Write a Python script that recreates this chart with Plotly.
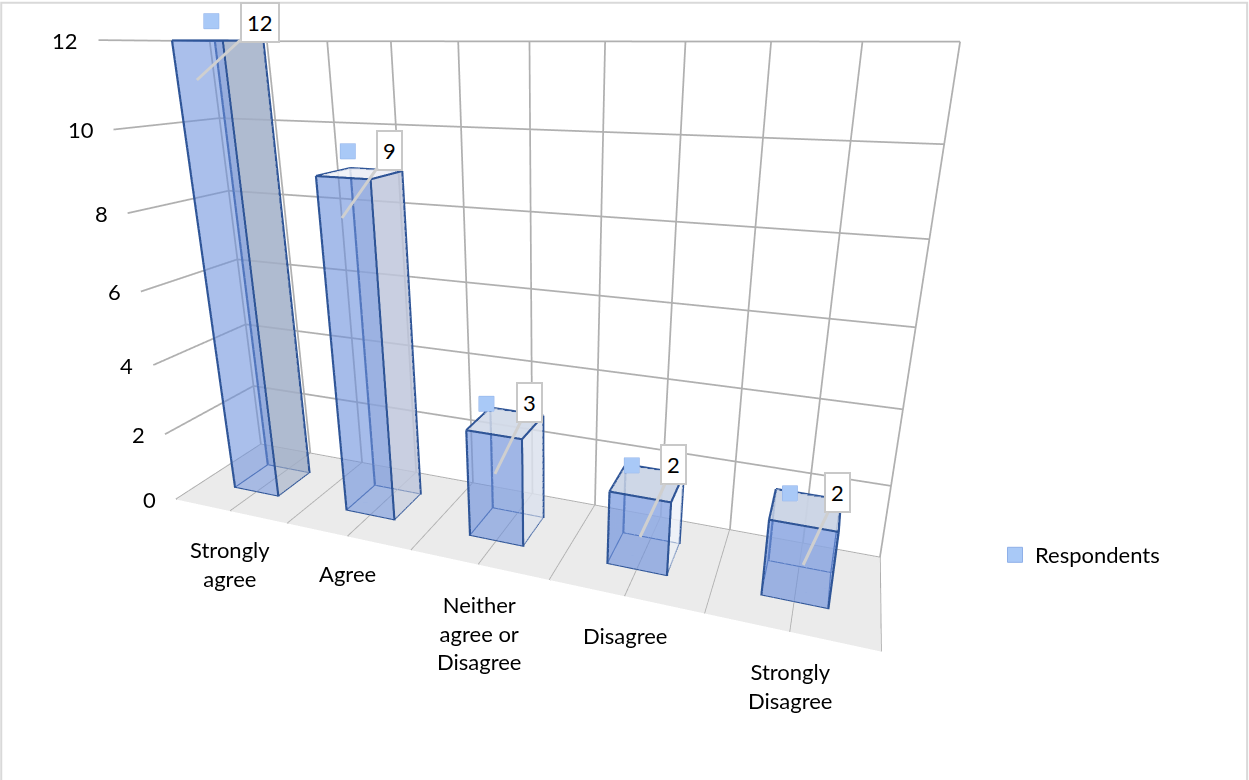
import plotly.graph_objects as go

# Survey responses per answer category
categories = ["Strongly<br>agree", "Agree", "Neither<br>agree or<br>Disagree", "Disagree", "Strongly<br>Disagree"]
respondents = [12, 9, 3, 2, 2]
series_name = "Respondents"
z_ticks = [0, 2, 4, 6, 8, 10, 12]
x_grid = [0, .5, 1, 1.5, 2, 2.5, 3, 3.5, 4, 4.5, 5]
X_MAX, Y_MAX, Z_MAX = 5, 1, 12
Z_HEADROOM = 12.6  # axis runs a little past the top gridline so the first key is not clipped

# Column footprint in axis units
BAR_W, BAR_D0, BAR_D1 = .4, .3, .7

# Styling
FONT = "Lato"
FONT_SIZE = 22
TEXT = "#000000"
GRID = "#b0b0b0"
EDGE = "#2f5597"
front_color = "#6e91dc"
front_alpha = [.54, .57, .6, .64, .64]
side_colors = ["#a0aec7", "#bec6db", "#dbe1ed", "#edf2f9", "#e1e6f0"]
top_colors = ["#c9d4e8", "#f2f3f8", "#d2dae8", "#c8d2e4", "#c8d2e4"]
flat = dict(ambient=1, diffuse=0, specular=0, roughness=1, fresnel=0)

# Series keys: offset from the column's left category edge and above its top
key_dx = [.46, .42, .36, .39, .395]
key_dz = [.45, .52, .45, .40, .35]

# Callout boxes: where the pointer lands relative to the column, and the box offset in pixels
tip_dx = [-.044, -.033, 0, .01, .023]
tip_dz = [-.887, -.954, -1.07, -1.07, -.987]
callout_ax = [63, 48, 35, 34, 34]
callout_ay = [-58, -68, -71, -72, -72]
label_yshift = [-23, -21, -24, -24, -24]

# Perspective view of the 3D box
eye = dict(x=0.63375, y=-1.47903, z=0.49039 - .025)
center = dict(x=0.14612, y=-0.11235, z=-0.03027 - .025)
up = dict(x=0.05164, y=-0.15202, z=1)
aspect = dict(x=1.53574, y=0.30564, z=Z_HEADROOM / Z_MAX)
view_h, view_cx = 698.05523, 553.69472

fig = go.Figure()

# Floor
fig.add_trace(go.Mesh3d(x=[0, X_MAX, X_MAX, 0], y=[0, 0, Y_MAX, Y_MAX], z=[0, 0, 0, 0],
                        i=[0, 0], j=[1, 2], k=[2, 3], color="#ebebeb", flatshading=True,
                        lighting=flat, hoverinfo="skip", showlegend=False))

# Gridlines on the side wall, back wall and floor
xs, ys, zs = [], [], []
for v in z_ticks:
    xs += [0, 0, X_MAX, None]
    ys += [0, Y_MAX, Y_MAX, None]
    zs += [v, v, v, None]
for v in x_grid:
    xs += [v, v, v, None]
    ys += [0, Y_MAX, Y_MAX, None]
    zs += [0, 0, Z_MAX, None]
fig.add_trace(go.Scatter3d(x=xs, y=ys, z=zs, mode="lines", line=dict(color=GRID, width=3.5),
                           hoverinfo="skip", showlegend=False))


def face_mesh(xv, yv, zv, faces, color, opacity):
    return go.Mesh3d(x=xv, y=yv, z=zv, i=[f[0] for f in faces], j=[f[1] for f in faces],
                     k=[f[2] for f in faces], color=color, opacity=opacity, flatshading=True,
                     lighting=flat, hoverinfo="skip", showlegend=False)


# Translucent columns, far faces first, with outlined edges on top
for n, v in enumerate(respondents):
    x0, x1 = n + .5 - BAR_W / 2, n + .5 + BAR_W / 2
    xv = [x0, x1, x1, x0, x0, x1, x1, x0]
    yv = [BAR_D0, BAR_D0, BAR_D1, BAR_D1, BAR_D0, BAR_D0, BAR_D1, BAR_D1]
    zv = [0, 0, 0, 0, v, v, v, v]
    fig.add_trace(face_mesh(xv, yv, zv, [[2, 3, 7], [2, 7, 6]], side_colors[n], .6))
    fig.add_trace(face_mesh(xv, yv, zv, [[1, 2, 6], [1, 6, 5]], side_colors[n], .6))
    fig.add_trace(face_mesh(xv, yv, zv, [[3, 0, 4], [3, 4, 7], [0, 1, 2], [0, 2, 3]], front_color, .1))
    fig.add_trace(face_mesh(xv, yv, zv, [[0, 1, 5], [0, 5, 4]], front_color, front_alpha[n]))
    fig.add_trace(face_mesh(xv, yv, zv, [[4, 5, 6], [4, 6, 7]], top_colors[n], .85))
    ex, ey, ez = [], [], []
    for a, b in [(0, 1), (1, 2), (2, 3), (3, 0), (4, 5), (5, 6), (6, 7), (7, 4), (0, 4), (1, 5), (2, 6), (3, 7)]:
        ex += [xv[a], xv[b], None]
        ey += [yv[a], yv[b], None]
        ez += [zv[a], zv[b], None]
    fig.add_trace(go.Scatter3d(x=ex, y=ey, z=ez, mode="lines", line=dict(color=EDGE, width=4.5),
                               hoverinfo="skip", showlegend=False))

# Series keys beside each value callout, plus the legend entry
key_marker = dict(symbol="square", color="#a9c9f7", line=dict(color="#8fb0e8", width=1))
fig.add_trace(go.Scatter3d(x=[i + d for i, d in enumerate(key_dx)], y=[.5] * len(respondents),
                           z=[v + d for v, d in zip(respondents, key_dz)], mode="markers", name=series_name,
                           marker=dict(size=8, **key_marker), hoverinfo="skip", showlegend=False,
                           legendgroup=series_name))
fig.add_trace(go.Scatter3d(x=[None], y=[None], z=[None], mode="markers", name=series_name,
                           marker=dict(size=15, **key_marker), hoverinfo="skip", showlegend=True,
                           legendgroup=series_name))

ann = []
for v in z_ticks:
    ann.append(dict(x=0, y=0, z=v, text=str(v), showarrow=False, xanchor="right", yanchor="middle",
                    xshift=-18, font=dict(family=FONT, size=FONT_SIZE, color=TEXT)))
for i, c in enumerate(categories):
    ann.append(dict(x=i + .5, y=0, z=0, text=c, showarrow=False, xanchor="center", yanchor="top",
                    yshift=label_yshift[i], font=dict(family=FONT, size=FONT_SIZE, color=TEXT)))
for i, v in enumerate(respondents):
    ann.append(dict(x=i + .5 + tip_dx[i], y=.3, z=v + tip_dz[i], text=str(v), showarrow=True, arrowhead=0,
                    arrowwidth=3, arrowcolor="#cfcfcf", ax=callout_ax[i], ay=callout_ay[i], bgcolor="white",
                    bordercolor="#c8c8c8", borderwidth=2, borderpad=5,
                    font=dict(family=FONT, size=FONT_SIZE, color=TEXT)))

fig.update_layout(
    width=1249, height=780, margin=dict(l=0, r=0, t=0, b=0), paper_bgcolor="white",
    legend=dict(x=995 / 1249, y=1 - 555 / 780, xanchor="left", yanchor="middle",
                font=dict(family=FONT, size=FONT_SIZE, color=TEXT), bgcolor="rgba(0,0,0,0)"),
    shapes=[dict(type="rect", xref="paper", yref="paper", x0=.001, x1=.9985, y0=-.01, y1=.9965,
                 line=dict(color="#d9d9d9", width=2))],
    scene=dict(
        domain=dict(x=[0, 2 * view_cx / 1249], y=[1 - view_h / 780, 1]),
        xaxis=dict(range=[0, X_MAX], visible=False),
        yaxis=dict(range=[0, Y_MAX], visible=False),
        zaxis=dict(range=[0, Z_HEADROOM], visible=False),
        aspectmode="manual", aspectratio=aspect, annotations=ann,
        camera=dict(eye=eye, center=center, up=up, projection=dict(type="perspective")),
    ),
)
fig.write_html("out.html")
